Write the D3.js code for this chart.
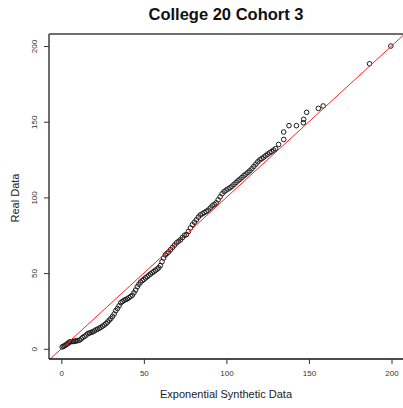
<!DOCTYPE html>
<html>
<head>
<meta charset="utf-8">
<script src="https://cdn.jsdelivr.net/npm/d3@7"></script>
<style>
  html, body { margin: 0; padding: 0; background: #fff; }
  svg { display: block; font-family: "Liberation Sans", Arial, sans-serif; }
</style>
</head>
<body>
<svg id="chart" width="403" height="408"></svg>
<script>
// Sorted exponential synthetic sample (x) against sorted real observations (y)
const synthetic = [
  0.5, 1.2, 2, 2.8, 3.5, 4.3, 5, 5.8, 6.6, 7.4, 8.2, 9, 10, 11, 12, 13, 14, 15, 16, 17,
  18, 19, 20, 21, 22, 23, 24, 25, 26, 27, 28, 29, 30, 31, 32, 33, 34, 35, 36, 37,
  38, 39, 40, 41, 42, 43, 44, 45, 46, 47, 48, 49, 50, 51, 52, 53, 54, 55, 56, 57,
  58, 59, 60,
  61, 62, 63, 64, 65, 66.2, 67.4, 68.6, 69.8, 71, 72.2, 73.4, 74.6, 75.8, 77, 78.2,
  79.4, 80.6, 81.8, 83, 84.2, 85.4, 86.6, 87.8, 89, 90.2, 91.4, 92.6, 93.8, 95, 96.2,
  97.4, 98.6, 99.8, 101, 102.2, 103.4, 104.6, 105.8, 107, 108.2, 109.4, 110.6, 111.8,
  113, 114.2, 115.4, 116.6, 117.8, 119, 120.2, 121.4, 122.6, 123.8, 125, 126.2, 127.4,
  128.6, 129.8,
  131.6, 134.7, 134.7, 137.9, 142.4, 146.6, 146.8, 148.6, 155.7, 158.6, 186.7, 199.6
];
const real = [
  1.2, 1.6, 2, 2.6, 3.2, 3.8, 4.5, 4.7, 4.8, 4.9, 5, 5.2, 5.4, 5.7, 6.5, 7.5, 8.2, 9, 10, 10.4,
  10.8, 11.2, 11.8, 12.5, 13, 13.6, 14.2, 15, 15.7, 16.6, 17.6, 18.8, 20, 21.4, 23, 25.2, 26.6, 28.4, 30.4, 31.2,
  32, 32.5, 33, 33.8, 34.6, 35.4, 37, 38.8, 41, 42.6, 44, 45, 45.8, 46.8, 47.6, 48.6, 49.4, 50.2, 51, 51.8,
  52.6, 53.5, 55,
  57.5, 60, 62, 63, 64, 65.5, 67, 68.5, 70, 71, 72, 73.5, 75, 75.4, 77.5, 79.8,
  82, 83.6, 85.2, 87, 88.4, 89.2, 90, 90.8, 91.6, 93, 94.4, 95.4, 96.4, 98.4, 100.4,
  102.4, 103.8, 104.8, 105.6, 106.4, 107.4, 108.6, 109.8, 111, 112, 113.2, 114.4, 115.4,
  116.5, 117.6, 119, 120.5, 122, 123.5, 124.8, 125.6, 126.6, 127.6, 128.6, 129.5, 130.3,
  131.3, 132.2,
  135, 138.3, 143.2, 147.4, 147.4, 149.3, 151.6, 156.2, 158.8, 160.4, 188.3, 200
];
const xTicks = [0, 50, 100, 150, 200];
const yTicks = [0, 50, 100, 150, 200];
const title = "College 20 Cohort 3";
const xLabel = "Exponential Synthetic Data";
const yLabel = "Real Data";

const svg = d3.select("#chart");
const plot = { left: 49, right: 404, top: 34, bottom: 359 };

// Axis ranges padded by 4% on each side
function padded(values) {
  const [lo, hi] = d3.extent(values);
  const p = (hi - lo) * 0.04;
  return [lo - p, hi + p];
}
const x = d3.scaleLinear().domain(padded(synthetic)).range([plot.left, plot.right]);
const y = d3.scaleLinear().domain(padded(real)).range([plot.bottom, plot.top]);

svg.append("defs").append("clipPath").attr("id", "plotClip")
  .append("rect")
  .attr("x", plot.left).attr("y", plot.top)
  .attr("width", plot.right - plot.left).attr("height", plot.bottom - plot.top);

// Points
const pairs = synthetic.map((s, i) => [s, real[i]]);
svg.append("g")
  .selectAll("circle")
  .data(pairs)
  .join("circle")
  .attr("cx", d => x(d[0]))
  .attr("cy", d => y(d[1]))
  .attr("r", 2.3)
  .attr("fill", "none")
  .attr("stroke", "#1a1a1a")
  .attr("stroke-width", 1);

// Identity reference line
const [dx0, dx1] = x.domain();
svg.append("line")
  .attr("clip-path", "url(#plotClip)")
  .attr("x1", x(dx0)).attr("y1", y(dx0))
  .attr("x2", x(dx1)).attr("y2", y(dx1))
  .attr("stroke", "#ff2020")
  .attr("stroke-width", 1);

// Frame
svg.append("line")
  .attr("x1", plot.left).attr("x2", plot.left)
  .attr("y1", plot.top).attr("y2", plot.bottom)
  .attr("stroke", "#6e6e6e").attr("stroke-width", 2);
svg.append("line")
  .attr("x1", plot.left).attr("x2", plot.right)
  .attr("y1", plot.top).attr("y2", plot.top)
  .attr("stroke", "#6e6e6e").attr("stroke-width", 2);

// Bottom axis
const xAxis = svg.append("g")
  .attr("transform", `translate(0,${plot.bottom})`)
  .call(d3.axisBottom(x).tickValues(xTicks).tickSize(5).tickPadding(6));
xAxis.select(".domain").attr("stroke", "#111").attr("stroke-width", 1.6)
  .attr("d", `M${plot.left},0H${plot.right}`);
xAxis.selectAll(".tick line").attr("stroke", "#333");
xAxis.selectAll(".tick text").attr("fill", "#333").attr("font-size", 8)
  .attr("font-family", "Liberation Sans, Arial, sans-serif");

// Left axis with labels parallel to the axis
const yAxis = svg.append("g")
  .attr("transform", `translate(${plot.left},0)`)
  .call(d3.axisLeft(y).tickValues(yTicks).tickSize(5));
yAxis.select(".domain").remove();
yAxis.selectAll(".tick line").attr("stroke", "#333");
yAxis.selectAll(".tick text")
  .attr("fill", "#333").attr("font-size", 8)
  .attr("font-family", "Liberation Sans, Arial, sans-serif")
  .attr("x", null).attr("dy", null)
  .attr("text-anchor", "middle")
  .attr("transform", "translate(-15,0) rotate(-90)")
  .attr("dominant-baseline", "central");

// Titles
svg.append("text")
  .attr("x", 226).attr("y", 20)
  .attr("text-anchor", "middle")
  .attr("font-size", 16.5).attr("font-weight", "bold")
  .attr("fill", "#111")
  .text(title);
svg.append("text")
  .attr("x", 226).attr("y", 398)
  .attr("text-anchor", "middle")
  .attr("font-size", 11).attr("fill", "#222")
  .text(xLabel);
svg.append("text")
  .attr("transform", `translate(19,198) rotate(-90)`)
  .attr("text-anchor", "middle")
  .attr("font-size", 11).attr("fill", "#222")
  .text(yLabel);
</script>
</body>
</html>
